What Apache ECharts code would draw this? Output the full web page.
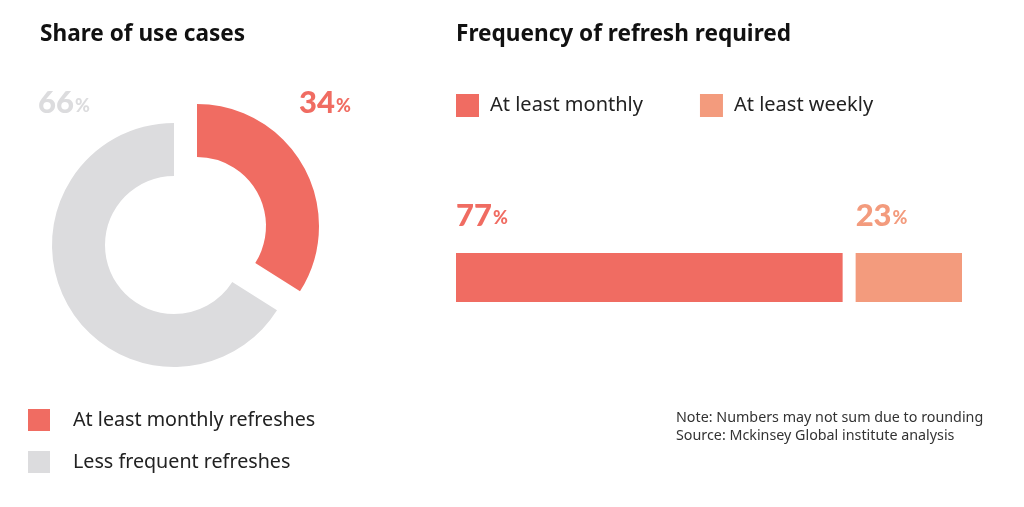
<!DOCTYPE html>
<html>
<head>
<meta charset="utf-8">
<script src="https://cdn.jsdelivr.net/npm/echarts@6/dist/echarts.min.js"></script>
<style>
  html, body { margin: 0; padding: 0; background: #fff; }
  #chart { width: 1024px; height: 507px; }
</style>
</head>
<body>
<div id="chart"></div>
<script>
// dados
var shareNames = ['At least monthly refreshes', 'Less frequent refreshes'];
var shareValues = [34, 66];
var shareColors = ['#f06c62', '#dcdcde'];

var freqNames = ['At least monthly', 'At least weekly'];
var freqValues = [77, 23];
var freqColors = ['#f06c62', '#f39b7d'];

var fonte = '"Noto Sans", sans-serif';
var fonteNum = 'Lato, sans-serif';

function richPct(cor) {
    return {
        n: { fontFamily: fonteNum, fontWeight: 900, fontSize: 31, color: cor },
        p: { fontFamily: fonteNum, fontWeight: 900, fontSize: 18, color: cor, padding: [6, 0, 0, 1] }
    };
}

// fatia visivel em cada serie (a vermelha fica deslocada)
function pieData(visivel) {
    return shareNames.map(function (nome, i) {
        var mostra = i === visivel;
        return {
            name: nome,
            value: shareValues[i],
            itemStyle: { color: mostra ? shareColors[i] : 'rgba(0,0,0,0)' },
            label: {
                show: mostra,
                position: 'center',
                formatter: '{n|' + shareValues[i] + '}{p|%}',
                rich: richPct(shareColors[i])
            }
        };
    });
}

var labelPos = [[299, 103], [38, 103]];

var myChart = echarts.init(document.getElementById('chart'));

var option = {
    animation: false,
    title: [
        { text: 'Share of use cases', left: 40, top: 23, padding: 0,
          textStyle: { fontFamily: fonte, fontWeight: 'bold', fontSize: 22.6, color: '#111' } },
        { text: 'Frequency of refresh required', left: 456, top: 23, padding: 0,
          textStyle: { fontFamily: fonte, fontWeight: 'bold', fontSize: 22.6, color: '#111' } },
        { text: 'Note: Numbers may not sum due to rounding\nSource: Mckinsey Global institute analysis',
          left: 676, top: 409, padding: 0,
          textStyle: { fontFamily: fonte, fontWeight: 'normal', fontSize: 14.3, lineHeight: 18, color: '#333' } }
    ],
    legend: [
        {
            orient: 'vertical', left: 28, top: 409, padding: 0,
            itemWidth: 22, itemHeight: 22, itemGap: 20, icon: 'rect',
            selectedMode: false,
            data: shareNames.map(function (n, i) { return { name: n, itemStyle: { color: shareColors[i] } }; }),
            textStyle: { fontFamily: fonte, fontSize: 19.7, color: '#222', padding: [0, 0, 0, 18] }
        },
        {
            orient: 'horizontal', left: 456, top: 94, padding: 0,
            itemWidth: 23, itemHeight: 23, itemGap: 57, icon: 'rect',
            selectedMode: false,
            data: freqNames.map(function (n, i) { return { name: n, itemStyle: { color: freqColors[i], borderWidth: 0 } }; }),
            textStyle: { fontFamily: fonte, fontSize: 20, color: '#222', padding: [0, 0, 0, 6] }
        }
    ],
    grid: { left: 449.5, width: 519, top: 246, height: 63 },
    xAxis: { type: 'value', min: 0, max: 100, show: false },
    yAxis: { type: 'category', data: ['freq'], show: false },
    series: [
        {
            type: 'pie', center: [174, 245], radius: [69, 122],
            startAngle: 90, clockwise: true, silent: true, avoidLabelOverlap: false,
            labelLine: { show: false },
            labelLayout: function () { return { x: labelPos[1][0], y: labelPos[1][1], align: 'left', verticalAlign: 'middle' }; },
            data: pieData(1)
        },
        {
            type: 'pie', center: [197, 226], radius: [69, 122],
            startAngle: 90, clockwise: true, silent: true, avoidLabelOverlap: false,
            labelLine: { show: false },
            labelLayout: function () { return { x: labelPos[0][0], y: labelPos[0][1], align: 'left', verticalAlign: 'middle' }; },
            data: pieData(0)
        }
    ].concat(freqNames.map(function (nome, i) {
        return {
            name: nome, type: 'bar', stack: 'total', barWidth: 62, silent: true,
            itemStyle: { color: freqColors[i], borderColor: '#fff', borderWidth: 6.5 },
            label: {
                show: true, position: [6.5, -31], align: 'left', verticalAlign: 'middle',
                formatter: '{n|' + freqValues[i] + '}{p|%}',
                rich: richPct(freqColors[i])
            },
            data: [freqValues[i]]
        };
    }))
};

myChart.setOption(option);
</script>
</body>
</html>
